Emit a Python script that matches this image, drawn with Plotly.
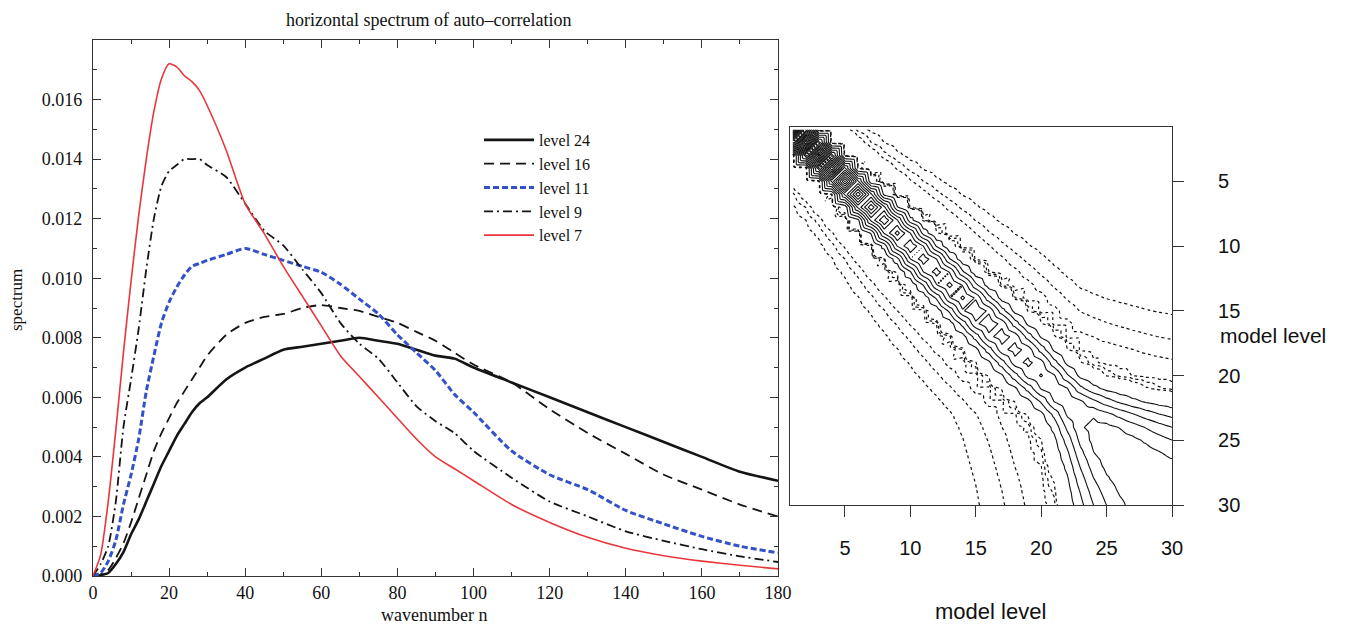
import numpy as np
import plotly.graph_objects as go

# ---------------- left panel data ----------------
wavenumber = [0, 2, 4, 6, 8, 10, 12, 14, 16, 18, 20, 22, 24, 26, 28, 30, 35, 40, 45, 50,
              55, 60, 65, 70, 75, 80, 85, 90, 95, 100, 110, 120, 130, 140, 150, 160, 170, 180]

level24 = [0, 0.00003, 0.0001, 0.0004, 0.0008, 0.0014, 0.0019, 0.0025, 0.0031, 0.0037, 0.0042,
           0.0047, 0.0051, 0.0055, 0.0058, 0.0060, 0.0066, 0.0070, 0.0073, 0.0076,
           0.0077, 0.0078, 0.0079, 0.0080, 0.0079, 0.0078, 0.0076, 0.0074, 0.0073, 0.0070,
           0.0065, 0.0060, 0.0055, 0.0050, 0.0045, 0.0040, 0.0035, 0.0032]
level16 = [0, 0.00005, 0.0002, 0.0006, 0.0011, 0.0018, 0.0026, 0.0034, 0.0042, 0.0048, 0.0053,
           0.0058, 0.0062, 0.0066, 0.0070, 0.0074, 0.0081, 0.0085, 0.0087, 0.0088,
           0.0090, 0.0091, 0.0090, 0.0089, 0.0087, 0.0085, 0.0082, 0.0079, 0.0075, 0.0071,
           0.0065, 0.0056, 0.0048, 0.0041, 0.0034, 0.0029, 0.0024, 0.0020]
level11 = [0, 0.0001, 0.0005, 0.0012, 0.0024, 0.0034, 0.0046, 0.0062, 0.0074, 0.0085, 0.0092,
           0.0097, 0.0101, 0.0104, 0.0105, 0.0106, 0.0108, 0.0110, 0.0108, 0.0106,
           0.0104, 0.0102, 0.0098, 0.0093, 0.0088, 0.0081, 0.0075, 0.0069, 0.0061, 0.0055,
           0.0042, 0.0034, 0.0029, 0.0022, 0.00175, 0.00133, 0.0010, 0.00078]
level9 = [0, 0.0004, 0.0010, 0.0025, 0.0050, 0.0066, 0.0083, 0.0103, 0.0120, 0.0131, 0.0136,
          0.0138, 0.0140, 0.0140, 0.0140, 0.0138, 0.0134, 0.0125, 0.0116, 0.0111,
          0.0103, 0.0095, 0.0085, 0.0078, 0.0073, 0.0065, 0.0057, 0.0052, 0.0048, 0.0042,
          0.0033, 0.0025, 0.0020, 0.0015, 0.00118, 0.0009, 0.00066, 0.00047]
level7 = [0, 0.0007, 0.0025, 0.0049, 0.0075, 0.0099, 0.0121, 0.0140, 0.0156, 0.0167, 0.0172,
          0.0171, 0.0168, 0.0166, 0.0163, 0.0158, 0.0143, 0.0125, 0.0115, 0.0104,
          0.0094, 0.0084, 0.0074, 0.0067, 0.0060, 0.0053, 0.0046, 0.0040, 0.0036, 0.0032,
          0.0024, 0.0018, 0.0013, 0.00093, 0.00068, 0.0005, 0.00036, 0.00024]

series_names = ["level 24", "level 16", "level 11", "level 9", "level 7"]
x_ticks = [0, 20, 40, 60, 80, 100, 120, 140, 160, 180]
y_ticks = [0.000, 0.002, 0.004, 0.006, 0.008, 0.010, 0.012, 0.014, 0.016]

# ---------------- right panel data ----------------
model_levels = list(range(1, 31))
level_spacing = [1.4, 1.35, 1.3, 1.25, 1.2, 1.1, 1.0, 0.9, 0.85, 0.8,
                 0.75, 0.7, 0.68, 0.66, 0.64, 0.62, 0.6, 0.58, 0.56, 0.55,
                 0.6, 0.6, 0.55, 0.35, 0.25, 0.2, 0.18, 0.16, 0.14, 0.12]
# amplitude on the diagonal for each level
level_amplitude = [1.7, 1.6, 1.45, 1.3, 1.12, 0.98, 0.88, 0.8, 0.74, 0.7,
                   0.67, 0.65, 0.63, 0.62, 0.6, 0.58, 0.56, 0.55, 0.53, 0.51,
                   0.495, 0.495, 0.495, 0.54, 0.56, 0.57, 0.58, 0.585, 0.59, 0.595]
lobe_weight = 0.13
lobe_width = 2.9
solid_levels = dict(start=0.1, end=1.7, size=0.1)
dotted_levels = dict(start=-0.03, end=-0.01, size=0.01)
model_ticks = [5, 10, 15, 20, 25, 30]

zh = np.cumsum(level_spacing)
amp = np.array(level_amplitude)
dz = zh[:, None] - zh[None, :]
shape = (1 + lobe_weight) * np.exp(-dz ** 2 / 2) - lobe_weight * np.exp(-dz ** 2 / (2 * lobe_width ** 2))
cov = np.sqrt(amp[:, None] * amp[None, :]) * shape


def tri_upsample(m, k):
    """piecewise-linear (triangulated) resampling of the level-by-level matrix"""
    n = m.shape[0]
    t = np.linspace(0, n - 1, (n - 1) * k + 1)
    rr, cc = np.meshgrid(t, t, indexing="ij")
    r0 = np.minimum(np.floor(rr).astype(int), n - 2)
    c0 = np.minimum(np.floor(cc).astype(int), n - 2)
    u = rr - r0
    w = cc - c0
    m00, m01 = m[r0, c0], m[r0, c0 + 1]
    m10, m11 = m[r0 + 1, c0], m[r0 + 1, c0 + 1]
    low = (u + w) <= 1
    val = np.where(low, m00 + w * (m01 - m00) + u * (m10 - m00),
                   m11 + (1 - w) * (m10 - m11) + (1 - u) * (m01 - m11))
    return t + model_levels[0], val


fine_levels, fine_cov = tri_upsample(cov, 6)

# ---------------- figure ----------------
# the page body has an 8px margin, so the figure is 8px smaller and offsets are shifted
OFF = 8
W, H = 1348 - OFF, 626 - OFF
def px(x):
    return (x - OFF) / W
def py(y):
    return 1 - (y - OFF) / H

serif = "Liberation Serif"
sans = "Liberation Sans"
ink = "#111"

fig = go.Figure()

styles = [
    dict(color="#151515", width=2.6, dash="solid"),
    dict(color="#151515", width=1.8, dash="10px,6px"),
    dict(color="#3352c8", width=3.0, dash="6px,3px"),
    dict(color="#151515", width=1.8, dash="9px,4px,2px,4px"),
    dict(color="#e8373c", width=1.6, dash="solid"),
]
for name, ys, st in zip(series_names, [level24, level16, level11, level9, level7], styles):
    fig.add_trace(go.Scatter(x=wavenumber, y=ys, mode="lines", name=name,
                             line=dict(shape="spline", smoothing=0.6, **st),
                             xaxis="x", yaxis="y"))

fig.add_trace(go.Contour(x=fine_levels, y=fine_levels, z=fine_cov.tolist(),
                         contours=dict(coloring="lines", **solid_levels),
                         colorscale=[[0, ink], [1, ink]], showscale=False,
                         line=dict(width=1.1, smoothing=0), showlegend=False,
                         xaxis="x2", yaxis="y2", hoverinfo="skip"))
fig.add_trace(go.Contour(x=fine_levels, y=fine_levels, z=fine_cov.tolist(),
                         contours=dict(coloring="lines", **dotted_levels),
                         colorscale=[[0, ink], [1, ink]], showscale=False,
                         line=dict(width=1.2, smoothing=0, dash="3px,3px"), showlegend=False,
                         xaxis="x2", yaxis="y2", hoverinfo="skip"))

axis_line = dict(showline=True, linecolor="#333", linewidth=1.2, showgrid=False,
                 zeroline=False, automargin=False)

fig.update_layout(
    width=W, height=H,
    margin=dict(l=0, r=0, t=0, b=0, autoexpand=False),
    paper_bgcolor="white", plot_bgcolor="white",
    showlegend=True,
    legend=dict(x=px(479), y=py(123), xanchor="left", yanchor="top",
                font=dict(family=serif, size=16, color=ink),
                bgcolor="rgba(0,0,0,0)", tracegroupgap=0, itemwidth=50),
    xaxis=dict(domain=[px(93), px(778)], range=[0, 180], tickvals=x_ticks,
               ticks="inside", ticklen=8, tickcolor="#333", mirror="ticks",
               minor=dict(dtick=10, ticklen=4, ticks="inside", tickcolor="#333"),
               tickfont=dict(family=serif, size=18, color=ink), anchor="y", **axis_line),
    yaxis=dict(domain=[py(576), py(40)], range=[0, 0.018], tickvals=y_ticks, tickformat=".3f",
               ticks="inside", ticklen=8, tickcolor="#333", mirror="ticks",
               minor=dict(dtick=0.001, ticklen=4, ticks="inside", tickcolor="#333"),
               ticklabelstandoff=6,
               tickfont=dict(family=serif, size=18, color=ink), anchor="x", **axis_line),
    xaxis2=dict(domain=[px(790), px(1172)], range=[0.8, 30], tickvals=model_ticks,
                ticks="outside", ticklen=11, tickcolor="#333", mirror=True, anchor="y2",
                ticklabelstandoff=14,
                tickfont=dict(family=sans, size=20, color=ink), **axis_line),
    yaxis2=dict(domain=[py(505), py(127)], range=[30, 0.8], tickvals=model_ticks,
                side="right", ticks="outside", ticklen=11, tickcolor="#333", mirror=True,
                anchor="x2", ticklabelstandoff=30,
                tickfont=dict(family=sans, size=20, color=ink), **axis_line),
    annotations=[
        dict(text="horizontal spectrum of auto\u2013correlation", x=px(428), y=py(20),
             xanchor="center", yanchor="middle",
             xref="paper", yref="paper", showarrow=False,
             font=dict(family=serif, size=18, color=ink)),
        dict(text="spectrum", x=px(17), y=py(300), xref="paper", yref="paper",
             xanchor="center", yanchor="middle",
             showarrow=False, textangle=-90, font=dict(family=serif, size=17, color=ink)),
        dict(text="wavenumber n", x=px(434), y=py(615), xref="paper", yref="paper",
             xanchor="center", yanchor="middle",
             showarrow=False, font=dict(family=serif, size=18, color=ink)),
        dict(text="model level", x=px(1218), y=py(335), xref="paper", yref="paper",
             xanchor="left", yanchor="middle", showarrow=False,
             font=dict(family=sans, size=21, color=ink)),
        dict(text="model level", x=px(990), y=py(611), xref="paper", yref="paper",
             xanchor="center", yanchor="middle",
             showarrow=False, font=dict(family=sans, size=22, color=ink)),
    ],
)

fig.write_html("out.html")
